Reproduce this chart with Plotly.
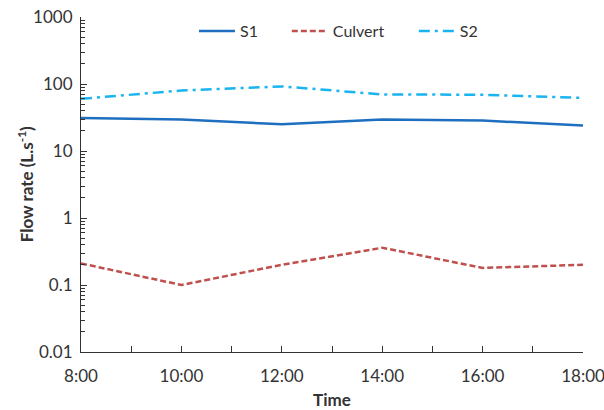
import plotly.graph_objects as go

times = ["8:00", "10:00", "12:00", "14:00", "16:00", "18:00"]
hours = [8, 10, 12, 14, 16, 18]
s1 = [31, 29.5, 25, 29.5, 28.5, 24]
culvert = [0.21, 0.10, 0.20, 0.36, 0.18, 0.20]
s2 = [60, 80, 92, 70, 69, 62]
ytickvals = [0.01, 0.1, 1, 10, 100, 1000]
yticktext = ["0.01", "0.1", "1", "10", "100", "1000"]

minor_y = [k * d for d in ytickvals[:-1] for k in range(2, 10)]
minor_x = [h + 1 for h in hours[:-1]]

FONT = "Lato"
INK = "#333333"
fig = go.Figure()
fig.add_trace(go.Scatter(x=hours, y=s1, name="S1", mode="lines", legend="legend",
                         showlegend=True, line=dict(color="#1f6fc0", width=2.5)))
fig.add_trace(go.Scatter(x=hours, y=culvert, name="Culvert", mode="lines", legend="legend2",
                         showlegend=True, line=dict(color="#c0504d", width=2.5, dash="6px,3px")))
fig.add_trace(go.Scatter(x=hours, y=s2, name="S2", mode="lines", legend="legend3",
                         showlegend=True, line=dict(color="#1ab4f0", width=2.5,
                                                    dash="11px,5px,3px,5px")))

def leg(x):
    return dict(x=x, xanchor="left", y=0.958, yanchor="middle", visible=True,
                bgcolor="rgba(0,0,0,0)", font=dict(size=16, color=INK),
                itemwidth=36)

fig.update_layout(
    width=604, height=410, showlegend=True,
    margin=dict(l=81, r=21, t=17, b=58, autoexpand=False),
    paper_bgcolor="white", plot_bgcolor="white",
    font=dict(family=FONT, size=17, color=INK),
    legend=leg(0.225), legend2=leg(0.41), legend3=leg(0.663),
    xaxis=dict(range=[8, 18], tickvals=hours, ticktext=times, automargin=False,
               ticklabeloverflow="allow",
               ticks="inside", ticklen=6, tickcolor=INK, ticklabelstandoff=8,
               showline=True, linecolor=INK, linewidth=1.2,
               showgrid=False, zeroline=False,
               minor=dict(tickmode="array", tickvals=minor_x, ticks="inside",
                          ticklen=6, tickcolor=INK, showgrid=False),
               title=dict(text="<b>Time</b>", font=dict(size=17), standoff=10)),
    yaxis=dict(type="log", range=[-2, 3], tickvals=ytickvals, ticktext=yticktext, automargin=False,
               ticklabeloverflow="allow",
               ticks="inside", ticklen=6, tickcolor=INK, ticklabelstandoff=4,
               showline=True, linecolor=INK, linewidth=1.2,
               showgrid=False, zeroline=False,
               minor=dict(tickmode="array", tickvals=minor_y, ticks="inside",
                          ticklen=4, tickcolor=INK, showgrid=False)),
    annotations=[dict(text="<b>Flow rate (L.s<sup>-1</sup>)</b>", xref="paper", yref="paper",
                      x=-0.11, y=0.5, xanchor="center", yanchor="middle", textangle=-90,
                      showarrow=False, font=dict(size=17, color=INK))],
)

fig.write_html("out.html", config={"displayModeBar": False},
               post_script="document.body.style.margin='0';")
